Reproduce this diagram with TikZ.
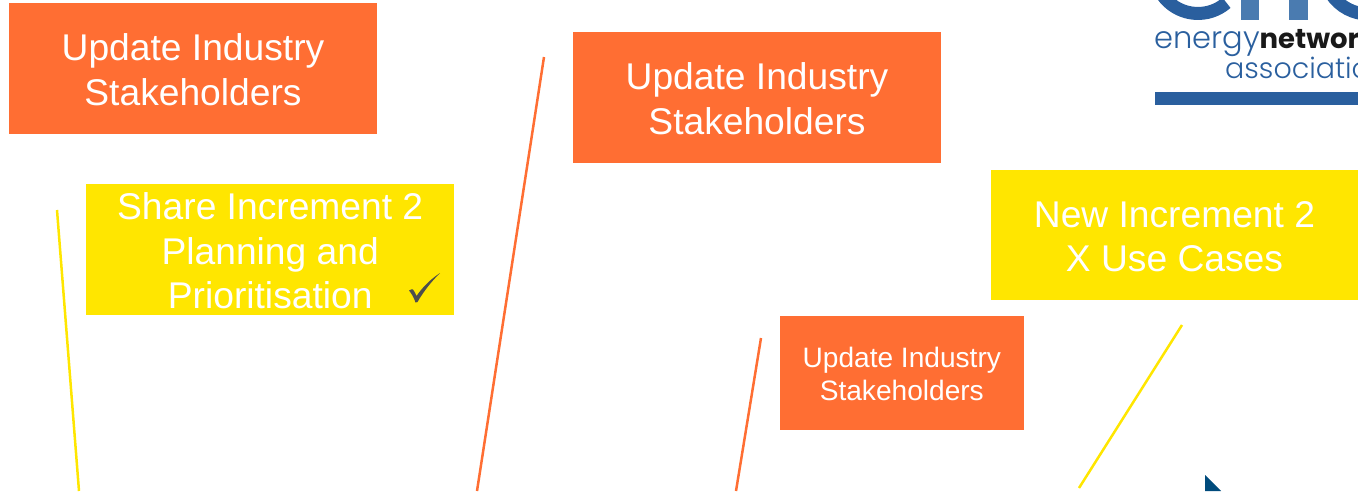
\documentclass[tikz,border=0pt]{standalone}
\usepackage{fontspec}
\setmainfont{Liberation Sans}
\newfontfamily\logofont{Poppins Light}
\newfontfamily\logobold{Poppins}
\definecolor{enaorange}{HTML}{FF6E33}
\definecolor{enayellow}{HTML}{FFE600}
\definecolor{enablue}{HTML}{2A5F9E}
\definecolor{enalight}{HTML}{4A7BB0}
\definecolor{enatri}{HTML}{004B7C}
\definecolor{ticktone}{HTML}{4D4D4D}
\newcommand{\firstbig}{\rule{0pt}{29.5pt}}
\newcommand{\firstsmall}{\rule{0pt}{23pt}}
\tikzset{
  bigtext/.style={text=white,align=center,inner sep=0pt,font=\fontsize{37.2}{44.5}\selectfont},
  orangebox/.style={bigtext,fill=enaorange,minimum width=368pt,minimum height=131pt},
  yellowbox/.style={bigtext,fill=enayellow,minimum width=368pt,minimum height=131pt},
  smallbox/.style={orangebox,minimum width=243.5pt,minimum height=114.5pt,font=\fontsize{28.1}{33}\selectfont},
  orangeline/.style={draw=enaorange,line width=2.5pt},
  yellowline/.style={draw=enayellow,line width=2.5pt}
}
\begin{document}
\begin{tikzpicture}[x=1pt,y=-1pt]
\useasboundingbox (0,0) rectangle (1358,491);
\clip (0,0) rectangle (1358,491);
\node[orangebox] (a) at (193,68.5) {\firstbig Update Industry\\Stakeholders};
\node[yellowbox] (b) at (270.2,249.5) {\firstbig Share Increment 2\\Planning and\\Prioritisation};
\node[orangebox] (c) at (757,97.5) {\firstbig Update Industry\\Stakeholders};
\node[yellowbox,minimum width=367pt,minimum height=130.5pt] (d) at (1174.5,235) {\firstbig New Increment 2\\X Use Cases};
\node[smallbox] (e) at (901.8,373) {\firstsmall Update Industry\\Stakeholders};
\fill[ticktone] (409,290.5) .. controls (410.5,289.5) and (412,289) .. (413,289.5)
  .. controls (414.5,291.5) and (415.5,293.5) .. (416.5,296)
  .. controls (423,286.5) and (431,279) .. (440,273)
  .. controls (431,282) and (423.5,291.5) .. (417.5,302)
  -- (415.5,302.5) .. controls (414,298) and (412,294) .. (409,290.5) -- cycle;
\coordinate (l1a) at (57,210);
\coordinate (l1b) at (79,491);
\coordinate (l2a) at (544,57);
\coordinate (l2b) at (477,491);
\coordinate (l3a) at (761,338);
\coordinate (l3b) at (736,491);
\coordinate (l4a) at (1182,325);
\coordinate (l4b) at (1079,488);
\draw[yellowline] (l1a) -- (l1b);
\draw[orangeline] (l2a) -- (l2b);
\draw[orangeline] (l3a) -- (l3b);
\draw[yellowline] (l4a) -- (l4b);
\fill[enatri] (1205,475) -- (1221,491) -- (1205,491) -- cycle;
% logo
\draw[enablue,line width=13pt] (1226.5,2.8) arc[start angle=49,end angle=190,radius=43.5];
\fill[enalight] (1241,0) rectangle (1259,20);
\fill[enalight] (1289,0) rectangle (1308,20);
\draw[enablue,line width=13pt] (1325,-22) arc[start angle=170,end angle=60,radius=43.5];
\node[anchor=base west,inner sep=0pt,text=enablue,font=\logofont\fontsize{30.5}{30.5}\selectfont] (logo1) at (1154,48) {energy\textcolor{black!90}{\logobold\bfseries\fontsize{27.5}{27.5}\selectfont network}};
\node[anchor=base west,inner sep=0pt,text=enablue,font=\logofont\fontsize{28.5}{28.5}\selectfont] (logo2) at (1225,78) {association};
\fill[enablue] (1155,92) rectangle (1358,105);
\end{tikzpicture}
\end{document}
